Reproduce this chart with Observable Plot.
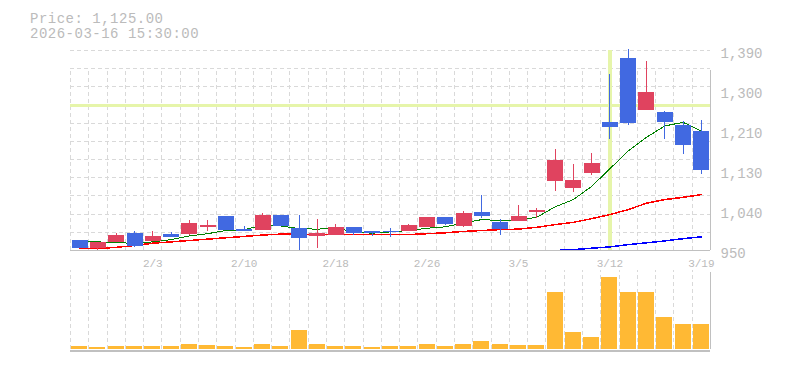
<!DOCTYPE html>
<html>
<head>
<meta charset="utf-8">
<script src="https://cdn.jsdelivr.net/npm/d3@7"></script>
<script src="https://cdn.jsdelivr.net/npm/@observablehq/plot@0.6"></script>
<style>
html, body { margin: 0; padding: 0; background: #fff; }
#wrap { position: relative; width: 785px; height: 370px; overflow: hidden; }
#main, #vol { position: absolute; left: 0; }
#main { top: 0; }
#vol { top: 270px; }
svg { display: block; }
svg line, svg rect, svg path { shape-rendering: crispEdges; }
</style>
</head>
<body>
<div id="wrap"><div id="main"></div><div id="vol"></div></div>
<script>
// ---- data ----
const headerLines = ["Price: 1,125.00", "2026-03-16 15:30:00"];

const dates = ["1/28","1/29","1/30","2/2","2/3","2/4","2/5","2/6","2/9","2/10",
  "2/12","2/13","2/16","2/17","2/18","2/19","2/20","2/24","2/25","2/26",
  "2/27","3/2","3/3","3/4","3/5","3/6","3/9","3/10","3/11","3/12",
  "3/13","3/16","3/17","3/18","3/19"];

const open  = [972,954,968,987,970,985,985,1001,1025,996,
  993,1027,998,981,984,1001,992,992,992,1001,
  1023,1003,1034,1012,1014,1034,1102,1086,1119,1232,
  1372,1258,1254,1225,1212];
const high  = [972,968,987,992,992,990,1016,1016,1025,1003,
  1031,1027,1027,1018,1007,1001,992,998,1007,1023,
  1023,1036,1071,1018,1049,1042,1172,1139,1163,1337,
  1392,1366,1255,1234,1236];
const low   = [955,951,967,957,969,978,984,992,994,991,
  993,1003,948,954,983,983,981,979,991,1000,
  1005,1001,1020,983,1013,1020,1080,1078,1115,1194,
  1225,1257,1194,1161,1117];
const close = [955,968,983,959,981,979,1009,1005,994,992,
  1027,1003,976,987,1001,988,987,990,1005,1023,
  1007,1031,1025,996,1025,1038,1148,1104,1141,1221,
  1229,1298,1232,1180,1125];

const volume = [33,23,33,33,33,33,53,43,33,23,
  53,33,191,53,33,33,23,33,33,53,
  33,53,83,53,43,43,560,170,120,710,
  560,560,320,250,250];

const ma5  = [969,969,967,966,969,974,982,987,994,996,
  1005,1004,998,997,999,991,988,991,994,999,
  1002,1011,1018,1016,1017,1023,1046,1062,1091,1130,
  1169,1199,1224,1232,1213];
const ma25 = [954,954,957,961,966,969,972,975,978,981,
  984,986,986,985,985,985,985,985,985,987,
  989,992,994,996,997,1001,1007,1012,1020,1029,
  1040,1054,1062,1067,1073];
const ma75 = [null,null,null,null,null,null,null,null,null,null,
  null,null,null,null,null,null,null,null,null,null,
  null,null,null,null,null,null,950,952,955,958,
  963,967,971,976,980];

const priceTicks = [950, 1038, 1126, 1214, 1302, 1390];
const priceTickLabels = ["950", "1,040", "1,130", "1,210", "1,300", "1,390"];
const priceGrid = [990,1030,1070,1110,1150,1190,1230,1270,1310,1350,1390];
const xTickLabels = ["2/3","2/10","2/18","2/26","3/5","3/12","3/19"];

const crosshairDate = "3/12";
const crosshairPrice = 1268;

// ---- styles ----
const upColor = "#e0435f", downColor = "#4169e1";
const volColor = "#ffb934";
const gridColor = "#d9d9d9", axisColor = "#c0c0c0", textColor = "#bbbbbb";
const crossColor = "#e6f5aa";
const font = "'Liberation Mono', 'DejaVu Sans Mono', monospace";

const candles = dates.map((d, i) => ({
  date: d, open: open[i], high: high[i], low: low[i], close: close[i],
  volume: volume[i], ma5: ma5[i], ma25: ma25[i], ma75: ma75[i]
}));
const candleColor = d => d.close >= d.open ? upColor : downColor;

const W = 785, mL = 70, mR = 75;
const bw = (W - mL - mR) / dates.length;

const main = Plot.plot({
  width: W, height: 270,
  marginTop: 50, marginBottom: 20, marginLeft: mL, marginRight: mR,
  style: {fontFamily: font, background: "transparent", overflow: "visible"},
  x: {type: "band", domain: dates, padding: 0, round: false, axis: null},
  y: {domain: [950, 1390], axis: null},
  color: {type: "identity"},
  marks: [
    Plot.ruleY(priceGrid, {stroke: gridColor, strokeDasharray: "4,3"}),
    Plot.ruleX(dates, {dx: -bw / 2, y1: 950, y2: 1390, insetBottom: -20,
      stroke: gridColor, strokeDasharray: "4,3"}),
    Plot.ruleX([crosshairDate], {y1: 950, y2: 1390, stroke: crossColor, strokeWidth: 3.5}),
    Plot.ruleY([crosshairPrice], {stroke: crossColor, strokeWidth: 3}),
    Plot.line(candles, {x: "date", y: "ma75", stroke: "#0000ff", strokeWidth: 1.5}),
    Plot.line(candles, {x: "date", y: "ma25", stroke: "#ff0000", strokeWidth: 1.5}),
    Plot.line(candles, {x: "date", y: "ma5", stroke: "#008000", strokeWidth: 1}),
    Plot.ruleX(candles, {x: "date", y1: "low", y2: "high", stroke: candleColor, strokeWidth: 1}),
    Plot.ruleX(candles, {x: "date", y1: "open", y2: "close", stroke: candleColor, strokeWidth: 16}),
    Plot.ruleY([950], {stroke: axisColor, strokeWidth: 1.5}),
    Plot.ruleX([dates[dates.length - 1]], {dx: bw / 2, y1: 950, y2: 1390, insetBottom: -20,
      stroke: axisColor, strokeWidth: 1.5}),
    Plot.axisY({anchor: "right", ticks: priceTicks, label: null,
      tickFormat: d => priceTickLabels[priceTicks.indexOf(d)],
      tickSize: 0, tickPadding: 10, fontSize: 14, fill: textColor, dy: 3}),
    Plot.axisX({ticks: xTickLabels, label: null, tickSize: 0, tickPadding: 8.5,
      fontSize: 11, fill: textColor})
  ]
});

const svg = d3.select(main);
headerLines.forEach((t, i) => {
  svg.append("text")
    .attr("x", 30).attr("y", 22.5 + 15 * i)
    .attr("fill", textColor)
    .attr("font-family", font)
    .attr("font-size", 14)
    .attr("letter-spacing", "0.5px")
    .attr("text-anchor", "start")
    .text(t);
});
document.getElementById("main").appendChild(main);

const vol = Plot.plot({
  width: W, height: 100,
  marginTop: 0, marginBottom: 21, marginLeft: mL, marginRight: mR,
  style: {fontFamily: font, background: "transparent"},
  x: {type: "band", domain: dates, padding: 0, round: false, axis: null},
  y: {domain: [0, 780], axis: null},
  marks: [
    Plot.ruleX(dates, {dx: -bw / 2, y1: 0, y2: 780, stroke: gridColor, strokeDasharray: "4,3"}),
    Plot.barY(candles, {x: "date", y: "volume", fill: volColor, insetLeft: 1.15, insetRight: 1.15}),
    Plot.ruleY([0], {dy: 1.5, stroke: axisColor, strokeWidth: 1.5}),
    Plot.ruleX([dates[dates.length - 1]], {dx: bw / 2, y1: 0, y2: 780, insetBottom: -1.5,
      stroke: axisColor, strokeWidth: 1.5})
  ]
});
document.getElementById("vol").appendChild(vol);
</script>
</body>
</html>
